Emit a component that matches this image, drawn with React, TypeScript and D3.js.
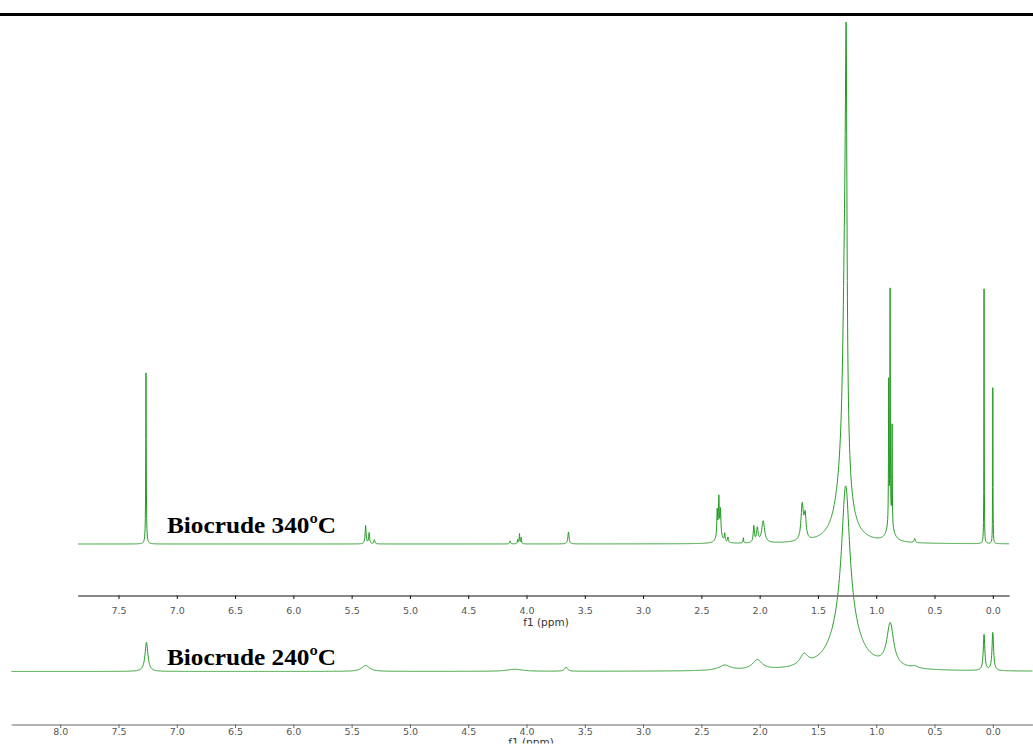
import React, { useEffect, useRef } from "react";
import * as d3 from "d3";

const WIDTH = 1033;
const HEIGHT = 753;

const upperShift = [7.264, 5.38, 5.35, 5.305, 4.14, 4.075, 4.06, 4.045, 3.64, 2.364, 2.35, 2.336, 2.345, 2.3, 2.272, 2.14, 2.05, 2.02, 1.97, 1.635, 1.61, 1.258, 1.27, 1.285, 0.893, 0.881, 0.864, 0.88, 0.67, 0.075, 0.0];
const upperHeight = [32.9, 3.5, 2.1, 0.8, 0.6, 0.8, 1.9, 1.2, 2.3, 5.0, 6.8, 4.6, 1.9, 1.5, 1.0, 1.0, 3.1, 2.7, 4.2, 6.8, 4.5, 62, 38.5, 11.5, 27, 44, 19, 3.8, 0.8, 49, 30];
const upperWidth = [0.0025, 0.005, 0.005, 0.005, 0.004, 0.004, 0.003, 0.003, 0.006, 0.004, 0.004, 0.004, 0.025, 0.004, 0.004, 0.003, 0.006, 0.008, 0.015, 0.012, 0.01, 0.008, 0.02, 0.07, 0.002, 0.002, 0.002, 0.03, 0.006, 0.0015, 0.0015];

const lowerShift = [7.26, 5.38, 4.1, 3.66, 2.3, 2.02, 1.62, 1.262, 1.265, 0.88, 0.67, 0.075, 0.0];
const lowerHeight = [5.6, 1.15, 0.4, 0.8, 1.0, 1.9, 2.1, 25, 10.6, 8.2, 0.4, 6.9, 7.3];
const lowerWidth = [0.015, 0.04, 0.08, 0.015, 0.06, 0.05, 0.04, 0.04, 0.12, 0.035, 0.03, 0.008, 0.008];

const upperTicks = [7.5, 7.0, 6.5, 6.0, 5.5, 5.0, 4.5, 4.0, 3.5, 3.0, 2.5, 2.0, 1.5, 1.0, 0.5, 0.0];
const lowerTicks = [8.0, 7.5, 7.0, 6.5, 6.0, 5.5, 5.0, 4.5, 4.0, 3.5, 3.0, 2.5, 2.0, 1.5, 1.0, 0.5, 0.0];
const upperRange = [7.85, -0.14];
const lowerRange = [8.42, -0.34];

function spectrum(shifts: number[], heights: number[], widths: number[], range: number[]) {
  const pts = d3.range(range[1], range[0], 0.002).concat(shifts).sort((a, b) => a - b);
  return pts.map((p) => [
    p,
    d3.sum(shifts, (s, i) => heights[i] / (1 + ((p - s) / widths[i]) ** 2)),
  ]);
}

function NmrChart() {
  const ref = useRef<SVGSVGElement>(null);

  useEffect(() => {
    const svg = d3.select(ref.current);
    svg.selectAll("*").remove();

    const x = d3.scaleLinear().domain([8, 0]).range([60.2, 992.8]);
    const yUpper = d3.scaleLinear().domain([0, 100]).range([544, 24]);
    const yLower = d3.scaleLinear().domain([0, 100]).range([671.5, 151.5]);

    svg.append("rect").attr("x", 0).attr("y", 13).attr("width", WIDTH).attr("height", 3).attr("fill", "#000");

    const drawAxis = (range: number[], ticks: number[], y: number, color: string, pad: number) => {
      const scale = d3.scaleLinear().domain(range).range([x(range[0]), x(range[1])]);
      const minor = d3.range(0.25, range[0], 0.5);
      const g = svg.append("g").attr("transform", `translate(0,${y})`);
      g.call(d3.axisBottom(scale).tickValues(minor).tickSize(1.5).tickSizeOuter(0).tickFormat(() => ""));
      g.call(
        d3.axisBottom(scale).tickValues(ticks).tickSize(3.5).tickPadding(pad).tickSizeOuter(0).tickFormat(d3.format(".1f"))
      );
      g.selectAll(".domain").attr("stroke", color);
      g.selectAll(".tick line").attr("stroke", color);
      g.selectAll(".tick text")
        .attr("fill", "#555")
        .style("font-family", "DejaVu Sans")
        .style("font-size", "9.5px");
    };

    drawAxis(upperRange, upperTicks, 595.5, "#111", 8.5);
    drawAxis(lowerRange, lowerTicks, 724.5, "#666", 0);

    const line = (y: d3.ScaleLinear<number, number>) =>
      d3.line<number[]>().x((d) => x(d[0])).y((d) => y(d[1]));

    svg.append("path")
      .datum(spectrum(lowerShift, lowerHeight, lowerWidth, lowerRange))
      .attr("d", line(yLower))
      .attr("fill", "none")
      .attr("stroke", "#239b23")
      .attr("stroke-width", 1);

    svg.append("path")
      .datum(spectrum(upperShift, upperHeight, upperWidth, upperRange))
      .attr("d", line(yUpper))
      .attr("fill", "none")
      .attr("stroke", "#239b23")
      .attr("stroke-width", 1);

    svg.append("text")
      .text("f1 (ppm)")
      .attr("x", 546)
      .attr("y", 626)
      .attr("text-anchor", "middle")
      .attr("fill", "#333")
      .style("font-family", "DejaVu Sans")
      .style("font-size", "10.5px");

    svg.append("clipPath").attr("id", "bottom-clip")
      .append("rect").attr("x", 0).attr("y", 0).attr("width", WIDTH).attr("height", 743.5);

    svg.append("text")
      .text("f1 (ppm)")
      .attr("x", 531)
      .attr("y", 746)
      .attr("text-anchor", "middle")
      .attr("fill", "#333")
      .attr("clip-path", "url(#bottom-clip)")
      .style("font-family", "DejaVu Sans")
      .style("font-size", "10.5px");

    const labels = [
      { text: "Biocrude 340ºC", y: 533 },
      { text: "Biocrude 240ºC", y: 665 },
    ];
    svg.selectAll(".sample")
      .data(labels)
      .join("text")
      .attr("class", "sample")
      .attr("x", 167)
      .attr("y", (d) => d.y)
      .attr("textLength", 169)
      .attr("lengthAdjust", "spacingAndGlyphs")
      .attr("fill", "#000")
      .style("font-family", "Liberation Serif")
      .style("font-weight", "bold")
      .style("font-size", "24px")
      .text((d) => d.text);
  }, []);

  return (
    <svg
      ref={ref}
      width={WIDTH}
      height={HEIGHT}
      style={{ position: "absolute", left: 0, top: 0, background: "#fff" }}
    ></svg>
  );
}

export default function App() {
  return <NmrChart />;
}
